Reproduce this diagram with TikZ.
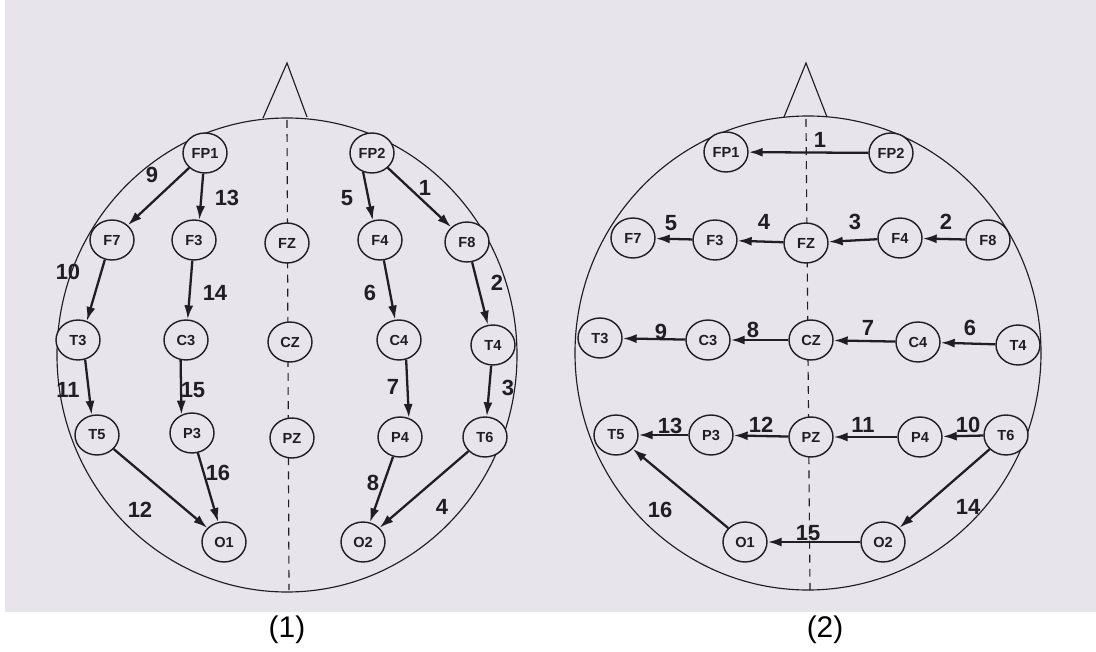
\documentclass[tikz,border=0pt]{standalone}
\usepackage{fontspec}
\setmainfont{Liberation Sans}
\usetikzlibrary{shapes.geometric,arrows.meta}
\definecolor{bgc}{RGB}{231,228,236}
\definecolor{ink}{RGB}{30,30,35}
\tikzset{
  el/.style={ellipse,draw=ink,line width=0.8pt,fill=bgc,minimum width=0.88cm,minimum height=0.8cm,inner sep=0pt,font=\bfseries\fontsize{8.3}{9}\selectfont,text=ink},
  arr/.style={draw=ink,line width=1.3pt,-{Latex[length=2.8mm,width=1.8mm]}},
  num/.style={font=\bfseries\fontsize{12.5}{13}\selectfont,text=ink,inner sep=0pt},
  headline/.style={draw=ink,line width=0.65pt},
  mid/.style={draw=ink,line width=0.65pt,dash pattern=on 4.5pt off 3.5pt},
  captext/.style={font=\fontsize{17}{18}\selectfont,inner sep=0pt}
}
\begin{document}
\begin{tikzpicture}[x=0.02cm,y=-0.02cm]
\useasboundingbox (0,0) rectangle (1096,652);
\fill[white] (0,0) rectangle (1096,652);
\fill[bgc] (5,0) rectangle (1096,612);
% ---------- left head ----------
\draw[headline] (287,355) ellipse [x radius=230, y radius=237];
\draw[headline] (263,118) -- (287,63) -- (307,117);
\draw[mid] (287,120) -- (289,590);
\node[el] (lFP1) at (205,153) {FP1};
\node[el] (lFP2) at (372,153) {FP2};
\node[el] (lF7) at (112,240) {F7};
\node[el] (lF3) at (194,240) {F3};
\node[el] (lFZ) at (287,243) {FZ};
\node[el] (lF4) at (380,240) {F4};
\node[el] (lF8) at (467,242) {F8};
\node[el] (lT3) at (78,340) {T3};
\node[el] (lC3) at (186,340) {C3};
\node[el] (lCZ) at (290,342) {CZ};
\node[el] (lC4) at (399,340) {C4};
\node[el] (lT4) at (493,345) {T4};
\node[el] (lT5) at (97,435) {T5};
\node[el] (lP3) at (192,433) {P3};
\node[el] (lPZ) at (292,438) {PZ};
\node[el] (lP4) at (400,437) {P4};
\node[el] (lT6) at (485,437) {T6};
\node[el] (lO1) at (224,542) {O1};
\node[el] (lO2) at (363,542) {O2};
\draw[arr] (lFP2) -- (lF8);
\draw[arr] (lF8) -- (lT4);
\draw[arr] (lT4) -- (lT6);
\draw[arr] (lT6) -- (lO2);
\draw[arr] (lFP2.245) -- (lF4.110);
\draw[arr] (lF4) -- (lC4);
\draw[arr] (lC4.290) -- (lP4.65);
\draw[arr] (lP4) -- (lO2);
\draw[arr] (lFP1) -- (lF7);
\draw[arr] (lF7.250) -- (lT3.65);
\draw[arr] (lT3.290) -- (lT5.105);
\draw[arr] (lT5) -- (lO1);
\draw[arr] (lFP1.265) -- (lF3.75);
\draw[arr] (lF3) -- (lC3);
\draw[arr] (lC3.255) -- (lP3.120);
\draw[arr] (lP3) -- (lO1);
\node[num] at (425,188) {1};
\node[num] at (497,283) {2};
\node[num] at (508,388) {3};
\node[num] at (442,507) {4};
\node[num] at (347,198) {5};
\node[num] at (370,293) {6};
\node[num] at (393,387) {7};
\node[num] at (373,483) {8};
\node[num] at (152,175) {9};
\node[num] at (68,272) {10};
\node[num] at (68,390) {11};
\node[num] at (140,510) {12};
\node[num] at (227,198) {13};
\node[num] at (215,293) {14};
\node[num] at (193,390) {15};
\node[num] at (218,473) {16};
% ---------- right head ----------
\draw[headline] (808,353) ellipse [x radius=233, y radius=237];
\draw[headline] (784,117) -- (806,63) -- (827,117);
\draw[mid] (806,119) -- (810,590);
\node[el] (rFP1) at (726,152) {FP1};
\node[el] (rFP2) at (891,153) {FP2};
\node[el] (rF7) at (633,238) {F7};
\node[el] (rF3) at (715,240) {F3};
\node[el] (rFZ) at (806,243) {FZ};
\node[el] (rF4) at (900,238) {F4};
\node[el] (rF8) at (988,240) {F8};
\node[el] (rT3) at (600,338) {T3};
\node[el] (rC3) at (708,340) {C3};
\node[el] (rCZ) at (811,340) {CZ};
\node[el] (rC4) at (918,342) {C4};
\node[el] (rT4) at (1018,345) {T4};
\node[el] (rT5) at (616,435) {T5};
\node[el] (rP3) at (711,435) {P3};
\node[el] (rPZ) at (811,437) {PZ};
\node[el] (rP4) at (920,437) {P4};
\node[el] (rT6) at (1006,435) {T6};
\node[el] (rO1) at (745,542) {O1};
\node[el] (rO2) at (883,542) {O2};
\draw[arr] (rFP2) -- (rFP1);
\draw[arr] (rF8) -- (rF4);
\draw[arr] (rF4) -- (rFZ);
\draw[arr] (rFZ) -- (rF3);
\draw[arr] (rF3) -- (rF7);
\draw[arr] (rT4) -- (rC4);
\draw[arr] (rC4) -- (rCZ);
\draw[arr] (rCZ) -- (rC3);
\draw[arr] (rC3) -- (rT3);
\draw[arr] (rT6) -- (rP4);
\draw[arr] (rP4) -- (rPZ);
\draw[arr] (rPZ) -- (rP3);
\draw[arr] (rP3) -- (rT5);
\draw[arr] (rT6) -- (rO2);
\draw[arr] (rO2) -- (rO1);
\draw[arr] (rO1) -- (rT5);
\node[num] at (820,140) {1};
\node[num] at (946,222) {2};
\node[num] at (855,222) {3};
\node[num] at (764,222) {4};
\node[num] at (671,223) {5};
\node[num] at (970,328) {6};
\node[num] at (868,328) {7};
\node[num] at (753,330) {8};
\node[num] at (661,332) {9};
\node[num] at (968,425) {10};
\node[num] at (863,425) {11};
\node[num] at (761,425) {12};
\node[num] at (670,426) {13};
\node[num] at (968,507) {14};
\node[num] at (808,533) {15};
\node[num] at (660,510) {16};
% ---------- captions ----------
\node[captext] (c1) at (287,630) {(1)};
\node[captext] (c2) at (825,630) {(2)};
\end{tikzpicture}
\end{document}
